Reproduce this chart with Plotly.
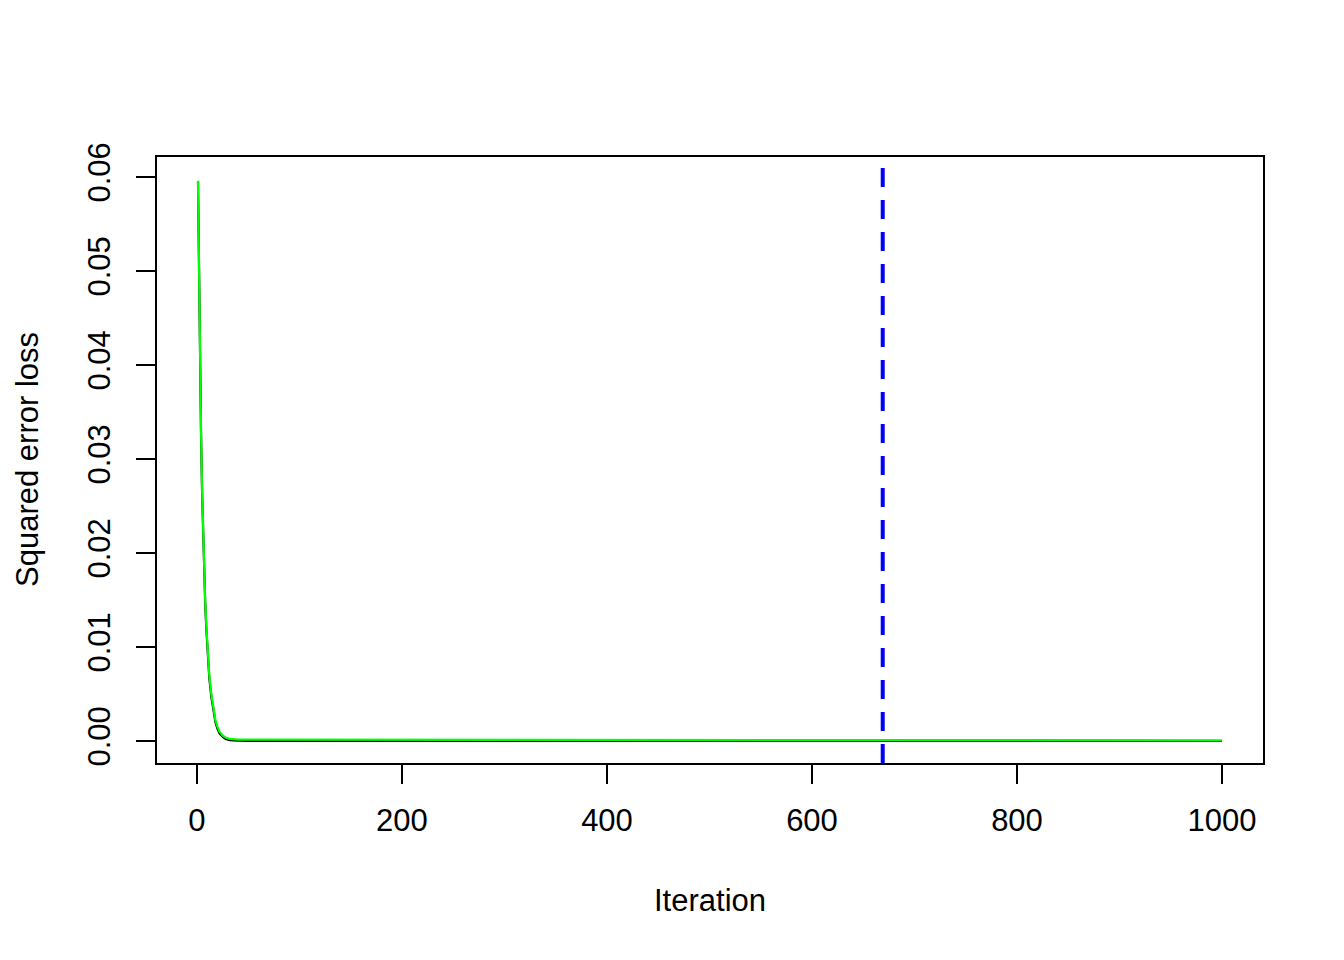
import plotly.graph_objects as go

# Data
iterations = [1, 2, 3, 4, 5, 6, 7, 8, 9, 10, 12, 14, 16, 18, 20, 22, 25, 28, 32, 36, 40,
              50, 60, 80, 100, 150, 200, 300, 400, 500, 600, 700, 800, 900, 1000]
loss_green = [0.0596, 0.0487, 0.0399, 0.0326, 0.0267, 0.0219, 0.0181, 0.0150, 0.0125, 0.0105,
              0.0070, 0.0050, 0.0033, 0.0022, 0.0015, 0.0010, 0.00060, 0.00036, 0.00022, 0.00017, 0.00015,
              0.00014, 0.00014, 0.00013, 0.00013, 0.00012, 0.00012, 0.00011, 0.00010, 0.00009, 0.00009,
              0.00008, 0.00008, 0.00007, 0.00007]
loss_black = [0.0595, 0.0485, 0.0396, 0.0323, 0.0264, 0.0216, 0.0178, 0.0147, 0.0122, 0.0102,
              0.0067, 0.0047, 0.0031, 0.0020, 0.0013, 0.0008, 0.00045, 0.00022, 0.00010, 0.00005, 0.00003,
              0.00002, 0.00002, 0.00001, 0.00001, 0.00001, 0.00001, 0.00001, 0.00000, 0.00000, 0.00000,
              0.00000, 0.00000, 0.00000, 0.00000]
best_iteration = 669
x_ticks = [0, 200, 400, 600, 800, 1000]
y_ticks = [0.00, 0.01, 0.02, 0.03, 0.04, 0.05, 0.06]
y_tick_labels = ["0.00", "0.01", "0.02", "0.03", "0.04", "0.05", "0.06"]

FONT = "Liberation Sans, Arial, Helvetica, sans-serif"

fig = go.Figure()
fig.add_trace(go.Scatter(x=iterations, y=loss_black, mode="lines",
                         line=dict(color="black", width=2.2), showlegend=False))
fig.add_trace(go.Scatter(x=iterations, y=loss_green, mode="lines",
                         line=dict(color="#00ff00", width=2.2), showlegend=False))

fig.add_shape(type="line", xref="x", yref="paper", x0=best_iteration, x1=best_iteration,
              y0=0, y1=1, line=dict(color="#0000ff", width=4, dash="19px,13px"))

axis_common = dict(showgrid=False, zeroline=False, showline=True, linecolor="black",
                   linewidth=2, mirror=True, ticks="outside", ticklen=19, tickwidth=1.6,
                   tickcolor="black", tickfont=dict(family=FONT, size=31, color="black"))

fig.update_xaxes(range=[-39, 1040], tickvals=x_ticks, ticktext=[str(v) for v in x_ticks],
                 ticklabelstandoff=10, **axis_common)
fig.update_yaxes(range=[-0.00234, 0.06213], tickvals=y_ticks, ticktext=y_tick_labels,
                 tickangle=-90, ticklabelstandoff=14, **axis_common)

fig.add_annotation(text="Iteration", xref="paper", yref="paper", x=0.5, y=0,
                   yshift=-137, showarrow=False, xanchor="center", yanchor="middle",
                   font=dict(family=FONT, size=31, color="black"))
fig.add_annotation(text="Squared error loss", xref="paper", yref="paper", x=0, y=0.5,
                   xshift=-130, textangle=-90, showarrow=False, xanchor="center",
                   yanchor="middle", font=dict(family=FONT, size=31, color="black"))

fig.update_layout(width=1328, height=944, plot_bgcolor="white", paper_bgcolor="white",
                  margin=dict(l=149, r=73, t=149, b=189), showlegend=False)

fig.write_html("out.html")
